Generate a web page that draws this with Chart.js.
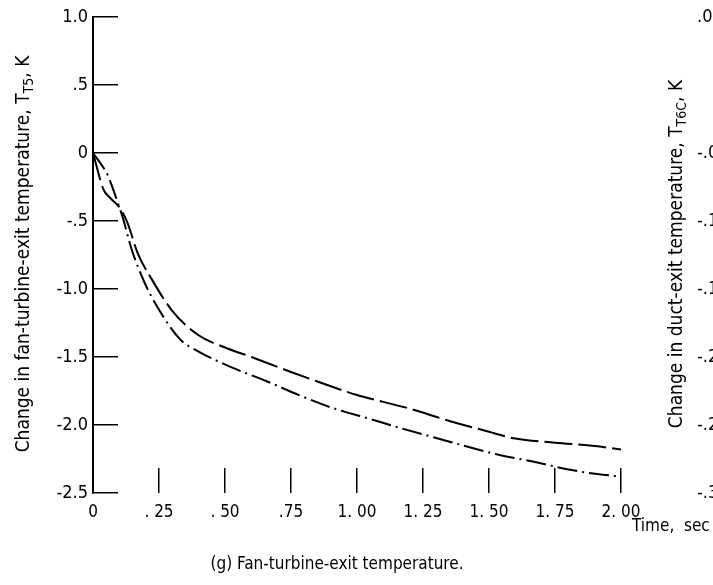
<!DOCTYPE html>
<html>
<head>
<meta charset="utf-8">
<script src="https://cdn.jsdelivr.net/npm/chart.js@4.4.1/dist/chart.umd.min.js"></script>
<style>
  body { margin: 0; background: #fff; }
  canvas { display: block; }
</style>
</head>
<body>
<canvas id="tempChart" width="713" height="585"></canvas>
<script>
// time axis, sec
const xTickValues = [0, 0.25, 0.5, 0.75, 1.0, 1.25, 1.5, 1.75, 2.0];
const xTickLabels = ['0', '. 25', '. 50', '.75', '1. 00', '1. 25', '1. 50', '1. 75', '2. 00'];

// left axis: fan-turbine-exit temperature change, K
const yTickValues = [1.0, 0.5, 0, -0.5, -1.0, -1.5, -2.0, -2.5];
const yTickLabels = ['1.0', '.5', '0', '-.5', '-1.0', '-1.5', '-2.0', '-2.5'];

// right axis: duct-exit temperature change, K (cut off at the page edge)
const y2TickValues = [0.05, -0.05, -0.10, -0.15, -0.20, -0.25, -0.30];
const y2TickLabels = ['.05', '-.05', '-.10', '-.15', '-.20', '-.25', '-.30'];

// long-dash curve
const dashTime = [0, 0.04, 0.065, 0.1, 0.13, 0.17, 0.22, 0.3, 0.4, 0.5, 0.6, 0.75, 0.85, 1.0, 1.1, 1.2, 1.35, 1.5, 1.6, 1.75, 1.9, 2.0];
const dashTemp = [0, -0.27, -0.33, -0.40, -0.51, -0.74, -0.92, -1.16, -1.34, -1.43, -1.50, -1.61, -1.68, -1.78, -1.83, -1.88, -1.97, -2.05, -2.10, -2.13, -2.155, -2.18];

// dash-dot curve
const dotTime = [0, 0.03, 0.055, 0.075, 0.1, 0.115, 0.145, 0.19, 0.24, 0.33, 0.4, 0.53, 0.66, 0.78, 0.9, 1.04, 1.16, 1.29, 1.42, 1.54, 1.67, 1.76, 1.87, 2.0];
const dotTemp = [0, -0.08, -0.16, -0.26, -0.40, -0.49, -0.70, -0.93, -1.12, -1.37, -1.46, -1.58, -1.68, -1.78, -1.87, -1.95, -2.02, -2.09, -2.16, -2.22, -2.27, -2.31, -2.35, -2.38];

const FONT = '"DejaVu Sans Condensed", "Liberation Sans Narrow", "DejaVu Sans", sans-serif';
Chart.defaults.font.family = FONT;
Chart.defaults.color = '#000';

function pairs(xs, ys) {
    return xs.map((x, i) => ({ x: x, y: ys[i] }));
}

// rotated axis title with a subscript part
function drawRotated(ctx, cx, cy, parts) {
    ctx.save();
    ctx.translate(cx, cy);
    ctx.rotate(-Math.PI / 2);
    ctx.textBaseline = 'alphabetic';
    ctx.textAlign = 'left';
    let total = 0;
    parts.forEach(p => {
        ctx.font = p.sub ? '14px ' + FONT : '19px ' + FONT;
        total += ctx.measureText(p.text).width;
    });
    let x = -total / 2;
    parts.forEach(p => {
        ctx.font = p.sub ? '14px ' + FONT : '19px ' + FONT;
        ctx.fillText(p.text, x, p.sub ? 11 : 7);
        x += ctx.measureText(p.text).width;
    });
    ctx.restore();
}

const textPlugin = {
    id: 'extraText',
    afterDraw(chart) {
        const ctx = chart.ctx;
        ctx.fillStyle = '#000';
        drawRotated(ctx, 22, 254, [
            { text: 'Change in fan-turbine-exit temperature, T' },
            { text: 'T5', sub: true },
            { text: ', K' }
        ]);
        drawRotated(ctx, 675, 254, [
            { text: 'Change in duct-exit temperature, T' },
            { text: 'T6C', sub: true },
            { text: ', K' }
        ]);
        ctx.save();
        ctx.font = '17px ' + FONT;
        ctx.textBaseline = 'middle';
        ctx.textAlign = 'left';
        ctx.fillText('Time,  sec', 632, 527);
        ctx.textAlign = 'center';
        ctx.fillText('(g) Fan-turbine-exit temperature.', 337, 565);
        ctx.restore();
    }
};

// keep the big tick paddings from pushing the plot area around
function noPad(scale) {
    scale.paddingTop = 0;
    scale.paddingBottom = 0;
}

const ctx = document.getElementById('tempChart').getContext('2d');
new Chart(ctx, {
    type: 'line',
    data: {
        datasets: [{
            data: pairs(dashTime, dashTemp),
            borderColor: '#000',
            borderWidth: 2,
            borderDash: [28, 6],
            pointRadius: 0,
            cubicInterpolationMode: 'monotone',
            fill: false
        }, {
            data: pairs(dotTime, dotTemp),
            borderColor: '#000',
            borderWidth: 2,
            borderDash: [20, 5, 2, 5],
            pointRadius: 0,
            cubicInterpolationMode: 'monotone',
            fill: false
        }]
    },
    options: {
        responsive: false,
        animation: false,
        devicePixelRatio: 1,
        layout: { padding: { top: 17, left: 0, right: 0, bottom: 0 } },
        plugins: {
            legend: { display: false },
            tooltip: { enabled: false }
        },
        scales: {
            x: {
                type: 'linear',
                min: 0,
                max: 2,
                border: { display: false },
                grid: {
                    drawOnChartArea: false,
                    drawTicks: true,
                    tickLength: -25,
                    color: '#000',
                    lineWidth: 1.5
                },
                ticks: {
                    padding: 34,
                    font: { size: 17 },
                    maxRotation: 0,
                    callback: (v) => {
                        const i = xTickValues.indexOf(v);
                        return i >= 0 ? xTickLabels[i] : '';
                    }
                },
                afterBuildTicks: (scale) => {
                    scale.ticks = xTickValues.map(v => ({ value: v }));
                },
                afterFit: (scale) => {
                    scale.height = 92;
                    scale.paddingLeft = 0;
                    scale.paddingRight = 0;
                }
            },
            y: {
                type: 'linear',
                position: 'left',
                min: -2.5,
                max: 1.0,
                border: { display: true, color: '#000', width: 2 },
                grid: {
                    drawOnChartArea: false,
                    drawTicks: true,
                    tickLength: -25,
                    color: '#000',
                    lineWidth: 1.5
                },
                ticks: {
                    padding: 30,
                    font: { size: 18 },
                    callback: (v) => {
                        const i = yTickValues.indexOf(v);
                        return i >= 0 ? yTickLabels[i] : '';
                    }
                },
                afterBuildTicks: (scale) => {
                    scale.ticks = yTickValues.map(v => ({ value: v }));
                },
                afterFit: (scale) => {
                    scale.width = 93;
                    noPad(scale);
                }
            },
            y2: {
                type: 'linear',
                position: 'right',
                min: -0.30,
                max: 0.05,
                border: { display: false },
                grid: { display: false },
                ticks: {
                    padding: 68,
                    font: { size: 18 },
                    crossAlign: 'near',
                    callback: (v) => {
                        const i = y2TickValues.findIndex(t => Math.abs(t - v) < 1e-9);
                        return i >= 0 ? y2TickLabels[i] : '';
                    }
                },
                afterBuildTicks: (scale) => {
                    scale.ticks = y2TickValues.map(v => ({ value: v }));
                },
                afterFit: (scale) => {
                    scale.width = 92;
                    noPad(scale);
                }
            }
        }
    },
    plugins: [textPlugin]
});
</script>
</body>
</html>
